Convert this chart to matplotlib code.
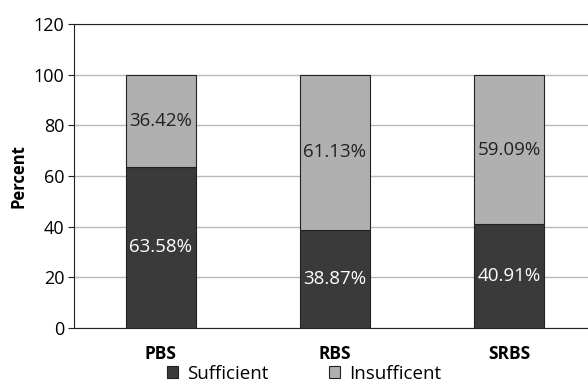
import matplotlib
matplotlib.use('Agg')
import matplotlib.pyplot as plt
import numpy as np

plt.rcParams['font.family'] = ['Open Sans', 'DejaVu Sans']

categories = ['PBS', 'RBS', 'SRBS']
sufficient = [63.58, 38.87, 40.91]
insufficient = [36.42, 61.13, 59.09]

fig = plt.figure(figsize=(5.88, 3.83), dpi=100)
ax = fig.add_axes([74 / 588, 1 - 328 / 383, 522 / 588, 304 / 383])

x = np.arange(len(categories)) + 0.5
w = 0.4
b1 = ax.bar(x, sufficient, w, color='#3a3a3a', edgecolor='#222222', lw=0.8,
            label='Sufficient', zorder=3)
b2 = ax.bar(x, insufficient, w, bottom=sufficient, color='#b0b0b0', edgecolor='#222222',
            lw=0.8, label='Insufficent', zorder=3)

for xi, s, i in zip(x, sufficient, insufficient):
    ax.text(xi, s / 2, f"{s:.2f}%", ha='center', va='center', color='white', fontsize=13.5, zorder=4)
    ax.text(xi, s + i / 2, f"{i:.2f}%", ha='center', va='center', color='#222222', fontsize=13.5, zorder=4)

ax.set_xlim(0, 3)
ax.set_ylim(0, 120)
ax.set_yticks(range(0, 121, 20))
ax.yaxis.grid(True, color='#b8b8b8', lw=1.0, zorder=0)
ax.set_xticks(x)
ax.set_xticklabels(categories, fontweight='bold', fontsize=12.5)
ax.tick_params(axis='x', length=0, pad=12)
ax.tick_params(axis='y', labelsize=13, length=4, color='#222222', pad=3)
ax.set_ylabel('Percent', fontweight='bold', fontsize=12, labelpad=4)
for side in ['left', 'bottom', 'top']:
    ax.spines[side].set_color('#222222')
ax.spines['right'].set_visible(False)

fig.legend(handles=[b1, b2], loc='center', bbox_to_anchor=(304 / 588, 1 - 374 / 383),
           ncol=2, frameon=False, fontsize=13.5, handlelength=0.6, handleheight=0.6,
           columnspacing=3.2, handletextpad=0.5)

fig.savefig('out.png', dpi=100)
